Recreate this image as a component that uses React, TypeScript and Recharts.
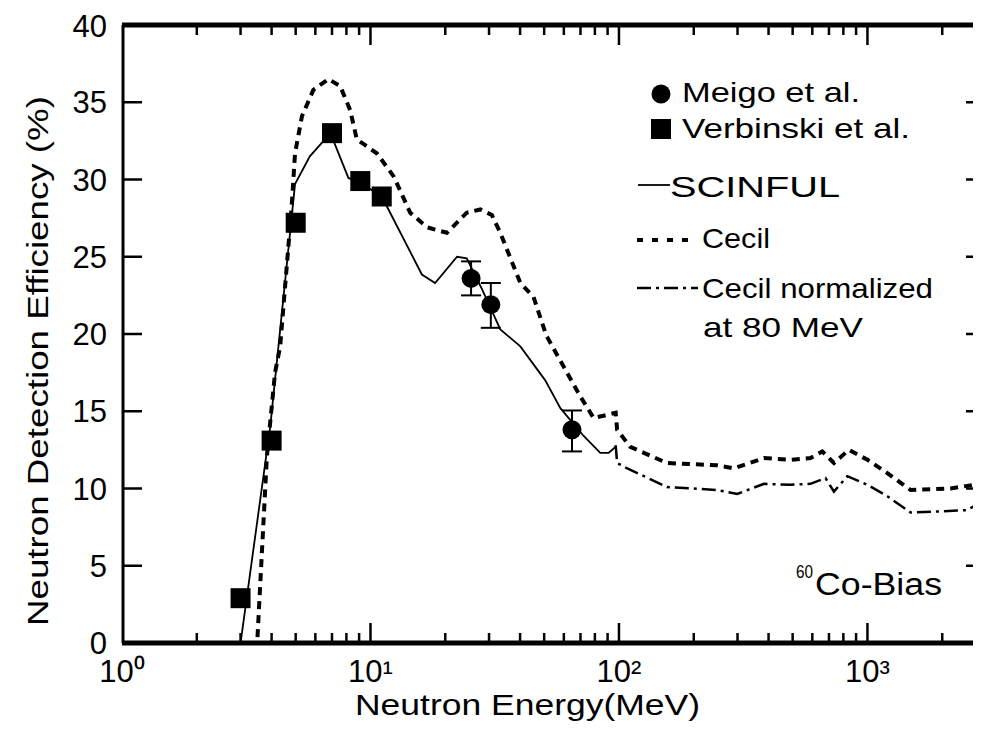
import {
  ComposedChart,
  Customized,
  ErrorBar,
  Line,
  Scatter,
  XAxis,
  YAxis,
} from "recharts"

// SCINFUL calculation (solid)
const scinfulE = [2.2, 3.0, 3.95, 4.97, 5.7, 6.9, 8.15, 9.1, 11.1, 12.0, 16.1, 18.2, 22.3, 24.4, 28.1, 33.3, 40.1, 50.5, 58.1, 72.1, 84.1, 90.9, 97]
const scinfulV = [0, 0, 14.0, 29.7, 31.5, 33.0, 30.1, 29.8, 28.9, 27.85, 23.85, 23.3, 25.0, 24.9, 22.9, 20.3, 19.2, 17.0, 15.2, 13.4, 12.3, 12.3, 12.7]

// Cecil calculation (dashed)
const cecilE = [2.2, 3.5, 3.83, 4.13, 4.33, 4.82, 4.97, 5.3, 5.89, 6.77, 7.55, 8.28, 8.81, 9.37, 10.6, 12.4, 14.45, 16.9, 20.3, 24.4, 27.7, 30.8, 33.3, 40.1, 45.3, 51, 61.8, 69.9, 79.1, 97, 98.3, 111, 156, 248, 290, 383, 490, 590, 658, 733, 841, 1000, 1202, 1493, 2161, 2681, 2882]
const cecilV = [0, 0, 12.1, 17.5, 19.2, 28.3, 31.7, 34.1, 35.8, 36.5, 36.05, 34.5, 32.6, 32.3, 31.7, 30.2, 27.85, 26.9, 26.55, 27.85, 28.06, 27.7, 26.55, 23.3, 22.4, 19.9, 17.5, 15.96, 14.56, 14.9, 13.8, 12.7, 11.65, 11.5, 11.3, 11.97, 11.86, 11.97, 12.4, 11.65, 12.5, 11.86, 11.0, 9.9, 10.0, 10.24, 10.56]

// Cecil normalized at 80 MeV (dash-dot)
const cecilNormE = [97, 98.3, 108, 156, 248, 299, 383, 490, 590, 678, 733, 830, 1000, 1202, 1493, 1849, 2523, 2882]
const cecilNormV = [12.8, 11.65, 11.3, 10.1, 9.9, 9.65, 10.3, 10.24, 10.3, 10.67, 9.8, 10.8, 10.24, 9.5, 8.44, 8.5, 8.6, 9.16]

// Verbinski et al. (squares)
const verbinskiE = [3.0, 4.0, 5.0, 7.0, 9.1, 11.1]
const verbinskiV = [2.9, 13.1, 27.2, 33.0, 29.9, 28.9]

// Meigo et al. (circles, with error bars)
const meigoE = [25.4, 30.5, 64.7]
const meigoV = [23.6, 21.9, 13.8]
const meigoErrLow = [1.1, 1.5, 1.4]
const meigoErrHigh = [1.1, 1.4, 1.25]

const xTicks = [1, 2, 3, 4, 5, 6, 7, 8, 9, 10, 20, 30, 40, 50, 60, 70, 80, 90, 100, 200, 300, 400, 500, 600, 700, 800, 900, 1000, 2000]
const yTicks = [0, 5, 10, 15, 20, 25, 30, 35, 40]
const SUP = ["⁰", "¹", "²", "³"]

const X_MIN = 1
const X_MAX = 3000
const Y_MIN = 0
const Y_MAX = 40

const toPoints = (es: number[], vs: number[]) => es.map((e, i) => ({ e, v: vs[i] }))

const scinful = toPoints(scinfulE, scinfulV)
const cecil = toPoints(cecilE, cecilV)
const cecilNorm = toPoints(cecilNormE, cecilNormV)
const verbinski = toPoints(verbinskiE, verbinskiV)
const meigo = meigoE.map((e, i) => ({ e, v: meigoV[i], err: [meigoErrLow[i], meigoErrHigh[i]] }))

const isMajor = (v: number) => {
  const l = Math.log10(v)
  return Math.abs(l - Math.round(l)) < 1e-6
}
const powerLabel = (v: number) => (isMajor(v) ? `10${SUP[Math.round(Math.log10(v))]}` : "")

// frame edges and inward tick-mark anchors, placed through the chart scales
const topEdge = [{ e: X_MIN, v: Y_MAX }, { e: X_MAX, v: Y_MAX }]
const bottomEdge = [{ e: X_MIN, v: Y_MIN }, { e: X_MAX, v: Y_MIN }]
const leftEdge = [{ e: X_MIN, v: Y_MIN }, { e: X_MIN, v: Y_MAX }]
const bottomMarks = xTicks.map((e) => ({ e, v: Y_MIN, len: isMajor(e) ? 20 : 10 }))
const topMarks = xTicks.map((e) => ({ e, v: Y_MAX, len: isMajor(e) ? 20 : 10 }))
const leftMarks = yTicks.map((v) => ({ e: X_MIN, v }))
const rightMarks = yTicks.map((v) => ({ e: X_MAX, v }))

const FONT = '"Liberation Sans", Arial, Helvetica, sans-serif'
const DASHED = "8 6"
const DASH_DOT = "14 5 3 5"

const UpMark = (p: any) => (
  <line x1={p.cx} x2={p.cx} y1={p.cy} y2={p.cy - (p.payload?.len ?? 10)} stroke="#000" strokeWidth={2.5} />
)
const DownMark = (p: any) => (
  <line x1={p.cx} x2={p.cx} y1={p.cy} y2={p.cy + (p.payload?.len ?? 10)} stroke="#000" strokeWidth={2.5} />
)
const RightwardMark = (p: any) => (
  <line x1={p.cx} x2={p.cx + 20} y1={p.cy} y2={p.cy} stroke="#000" strokeWidth={2.5} />
)
const LeftwardMark = (p: any) => (
  <line x1={p.cx} x2={p.cx - 20} y1={p.cy} y2={p.cy} stroke="#000" strokeWidth={2.5} />
)

const SquareShape = (props: any) => (
  <rect x={props.cx - 10} y={props.cy - 10} width={20} height={20} fill="#000" />
)

const CircleShape = (props: any) => <circle cx={props.cx} cy={props.cy} r={9.5} fill="#000" />

const T = ({ x, y, size, len, children }: any) => (
  <text x={x} y={y} fontSize={size} textLength={len} lengthAdjust="spacingAndGlyphs">
    {children}
  </text>
)

// legend, axis titles and the 60Co-Bias note
const Annotations = () => (
  <g fontFamily={FONT} fill="#000">
    <text
      x={40}
      y={353}
      transform="rotate(-90, 40, 353)"
      textAnchor="middle"
      fontSize={29}
      textLength={530}
      lengthAdjust="spacingAndGlyphs"
    >
      Neutron Detection Efficiency (%)
    </text>
    <T x={347} y={707} size={29} len={345}>
      Neutron Energy(MeV)
    </T>

    <circle cx={653} cy={86} r={9.5} />
    <T x={674} y={94} size={28} len={178}>
      Meigo et al.
    </T>
    <rect x={643} y={111} width={20} height={20} />
    <T x={674} y={130} size={28} len={228}>
      Verbinski et al.
    </T>

    <line x1={630} x2={662} y1={177} y2={177} stroke="#000" strokeWidth={1.8} />
    <T x={662} y={189} size={29} len={170}>
      SCINFUL
    </T>

    <line x1={629} x2={688} y1={232} y2={232} stroke="#000" strokeWidth={4} strokeDasharray="6 9" />
    <T x={694} y={240} size={28} len={68}>
      Cecil
    </T>

    <line x1={629} x2={690} y1={280} y2={280} stroke="#000" strokeWidth={2.5} strokeDasharray={DASH_DOT} />
    <T x={694} y={290} size={28} len={231}>
      Cecil normalized
    </T>
    <T x={695} y={329} size={28} len={160}>
      at 80 MeV
    </T>

    <T x={788} y={570} size={19} len={17}>
      60
    </T>
    <T x={807} y={587} size={31} len={127}>
      Co-Bias
    </T>
  </g>
)

const series = { xAxisId: "bottom", yAxisId: "left", isAnimationActive: false }
const edge = { ...series, type: "linear" as const, stroke: "#000", strokeWidth: 5, dot: false }

export default function App() {
  return (
    <div style={{ width: 973, height: 737, overflow: "hidden", background: "#fff" }}>
      <ComposedChart width={980} height={737} margin={{ top: 17, right: 2, bottom: 2, left: 0 }}>
        <XAxis
          xAxisId="bottom"
          dataKey="e"
          type="number"
          scale="log"
          domain={[X_MIN, X_MAX]}
          allowDataOverflow
          ticks={xTicks}
          interval={0}
          height={100}
          stroke="#000"
          tickLine={false}
          tickMargin={11}
          tickFormatter={powerLabel}
          tick={{ fontSize: 31, fill: "#000", fontFamily: FONT }}
        />
        <YAxis
          yAxisId="left"
          dataKey="v"
          type="number"
          domain={[Y_MIN, Y_MAX]}
          ticks={yTicks}
          width={114}
          stroke="#000"
          tickLine={false}
          tickMargin={9}
          tick={{ fontSize: 31, fill: "#000", fontFamily: FONT }}
        />

        {/* frame: thick edges and inward tick marks */}
        <Line {...edge} data={topEdge} dataKey="v" />
        <Line {...edge} data={bottomEdge} dataKey="v" />
        <Line {...edge} data={leftEdge} dataKey="v" />
        <Scatter {...series} data={bottomMarks} dataKey="v" shape={UpMark} />
        <Scatter {...series} data={topMarks} dataKey="v" shape={DownMark} />
        <Scatter {...series} data={leftMarks} dataKey="v" shape={RightwardMark} />
        <Scatter {...series} data={rightMarks} dataKey="v" shape={LeftwardMark} />

        <Line {...series} data={scinful} dataKey="v" type="linear" stroke="#000" strokeWidth={1.8} dot={false} />
        <Line
          {...series}
          data={cecil}
          dataKey="v"
          type="linear"
          stroke="#000"
          strokeWidth={4}
          strokeDasharray={DASHED}
          dot={false}
        />
        <Line
          {...series}
          data={cecilNorm}
          dataKey="v"
          type="linear"
          stroke="#000"
          strokeWidth={2.5}
          strokeDasharray={DASH_DOT}
          dot={false}
        />
        <Scatter {...series} data={verbinski} dataKey="v" shape={SquareShape} />
        <Scatter {...series} data={meigo} dataKey="v" shape={CircleShape}>
          <ErrorBar dataKey="err" direction="y" width={10} stroke="#000" strokeWidth={2} isAnimationActive={false} />
        </Scatter>

        <Customized component={Annotations} />
      </ComposedChart>
    </div>
  )
}
